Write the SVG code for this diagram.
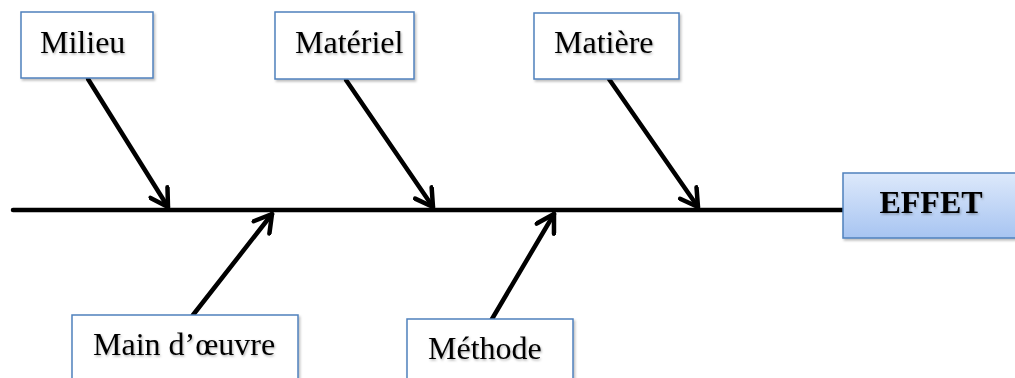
<svg xmlns="http://www.w3.org/2000/svg" width="1015" height="378" viewBox="0 0 1015 378">
  <style>
    .box { fill: #ffffff; stroke: #4f81bd; stroke-width: 1.5; }
    .label { font-family: "Liberation Serif", "Times New Roman", serif; font-size: 32px; fill: #000000; }
    .bone { stroke: #000000; stroke-width: 4.5; fill: none; stroke-linecap: round; }
  </style>
  <defs>
    <linearGradient id="effetFill" x1="0" y1="0" x2="0" y2="1">
      <stop offset="0" stop-color="#dde9fb"/>
      <stop offset="1" stop-color="#a7c4f1"/>
    </linearGradient>
    <filter id="textShadow" x="-10%" y="-20%" width="120%" height="150%">
      <feDropShadow dx="1" dy="1.5" stdDeviation="1.2" flood-color="#000000" flood-opacity="0.3"/>
    </filter>
    <filter id="boxShadow" x="-5%" y="-10%" width="115%" height="130%">
      <feDropShadow dx="1.5" dy="2" stdDeviation="1.2" flood-color="#000000" flood-opacity="0.25"/>
    </filter>
    <!-- open chevron head, drawn in user units so it keeps a fixed size -->
    <marker id="chevron" viewBox="0 0 26 24" refX="21" refY="12" markerWidth="26" markerHeight="24" markerUnits="userSpaceOnUse" orient="auto">
      <path d="M4,2 L21,12 L4,22" fill="none" stroke="#000000" stroke-width="4.5" stroke-linecap="round" stroke-linejoin="round"/>
    </marker>
  </defs>

  <!-- spine and bones -->
  <g id="connectors">
    <line class="bone" x1="13" y1="210" x2="843" y2="210" stroke-linecap="butt"/>
    <line class="bone" x1="88" y1="79" x2="168" y2="207" marker-end="url(#chevron)"/>
    <line class="bone" x1="346" y1="80" x2="433" y2="207" marker-end="url(#chevron)"/>
    <line class="bone" x1="609" y1="79" x2="698" y2="207" marker-end="url(#chevron)"/>
    <line class="bone" x1="193" y1="315" x2="272" y2="214" marker-end="url(#chevron)"/>
    <line class="bone" x1="492" y1="319" x2="554" y2="214" marker-end="url(#chevron)"/>
  </g>

  <g id="milieu">
    <rect class="box" x="21" y="12" width="132" height="66" filter="url(#boxShadow)"/>
    <text class="label" x="40" y="53" filter="url(#textShadow)">Milieu</text>
  </g>

  <g id="materiel">
    <rect class="box" x="275" y="12" width="139" height="67" filter="url(#boxShadow)"/>
    <text class="label" x="295" y="53" filter="url(#textShadow)">Matériel</text>
  </g>

  <g id="matiere">
    <rect class="box" x="534" y="13" width="145" height="66" filter="url(#boxShadow)"/>
    <text class="label" x="554" y="53" filter="url(#textShadow)">Matière</text>
  </g>

  <g id="main-oeuvre">
    <rect class="box" x="72" y="315" width="226" height="80" filter="url(#boxShadow)"/>
    <text class="label" x="93" y="355" filter="url(#textShadow)">Main d’œuvre</text>
  </g>

  <g id="methode">
    <rect class="box" x="407" y="319" width="166" height="80" filter="url(#boxShadow)"/>
    <text class="label" x="428" y="359" filter="url(#textShadow)">Méthode</text>
  </g>

  <g id="effet">
    <rect x="843" y="173" width="180" height="65" fill="url(#effetFill)" stroke="#4f81bd" stroke-width="1.5" filter="url(#boxShadow)"/>
    <text class="label" x="931" y="213" text-anchor="middle" font-weight="bold" font-size="31" filter="url(#textShadow)">EFFET</text>
  </g>
</svg>
